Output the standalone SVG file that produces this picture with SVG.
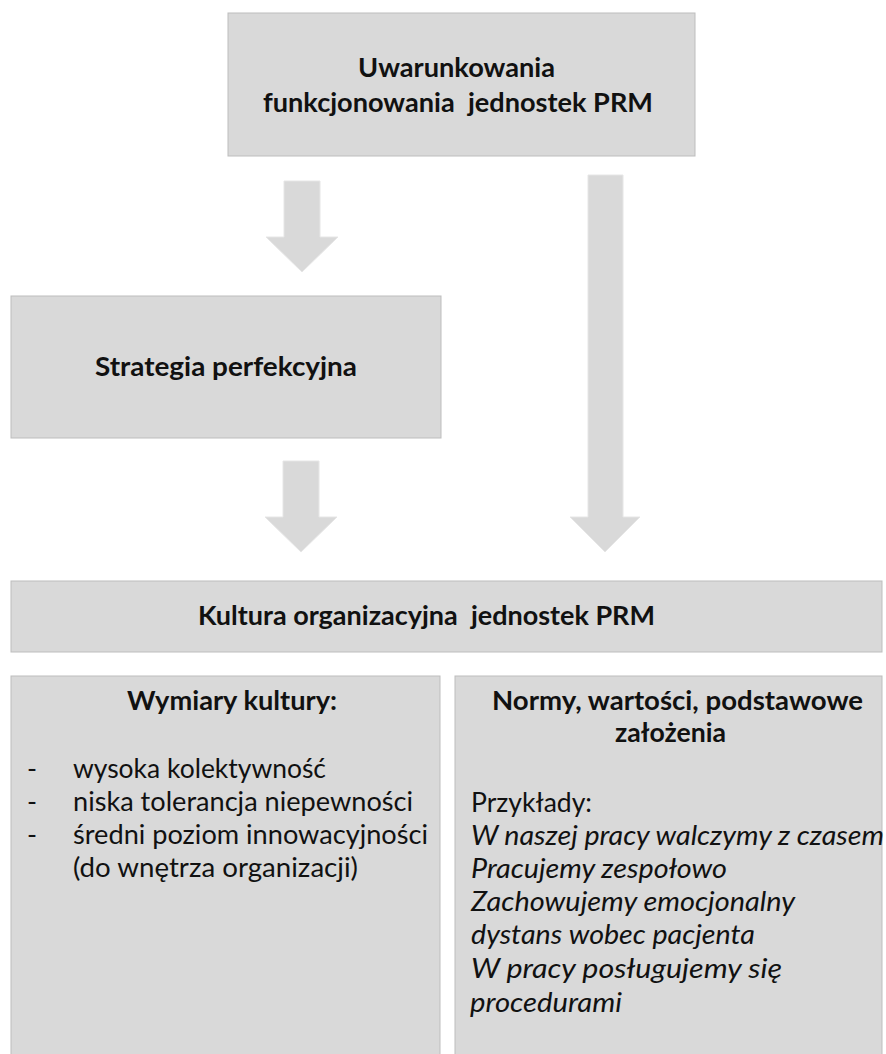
<svg xmlns="http://www.w3.org/2000/svg" width="886" height="1054" viewBox="0 0 886 1054">
<style>
.box{fill:#D9D9D9;stroke:#BDBDBD;stroke-width:1}
.arr{fill:#D9D9D9;stroke:#E6E6E6;stroke-width:1}
text{font-family:Lato,"Liberation Sans",sans-serif;fill:#111}
.b{font-weight:bold;font-size:27px}
.r{font-size:27px}
.i{font-size:27px;font-style:italic}
</style>
<rect width="886" height="1054" fill="#FFFFFF"/>
<g id="connectors">
<path class="arr" d="M284,181 H320 V237 H338 L302,272 L266,237 H284 Z"/>
<path class="arr" d="M283,461 H319 V517 H337 L301,552 L265,517 H283 Z"/>
<path class="arr" d="M588,175 H623 V517 H640 L605,552 L570,517 H588 Z"/>
</g>
<g id="uwarunkowania">
<rect class="box" x="228" y="13" width="467" height="143"/>
<text class="b" x="358" y="77" textLength="197" lengthAdjust="spacingAndGlyphs">Uwarunkowania</text>
<text class="b" x="263" y="112" textLength="390" lengthAdjust="spacingAndGlyphs" xml:space="preserve">funkcjonowania  jednostek PRM</text>
</g>
<g id="strategia">
<rect class="box" x="11" y="296" width="430" height="142"/>
<text class="b" x="95" y="376" textLength="262" lengthAdjust="spacingAndGlyphs">Strategia perfekcyjna</text>
</g>
<g id="kultura">
<rect class="box" x="11" y="581" width="871" height="71"/>
<text class="b" x="198" y="625" textLength="457" lengthAdjust="spacingAndGlyphs" xml:space="preserve">Kultura organizacyjna  jednostek PRM</text>
</g>
<g id="wymiary">
<rect class="box" x="11" y="676" width="429" height="390"/>
<text class="b" x="127" y="710" textLength="210" lengthAdjust="spacingAndGlyphs">Wymiary kultury:</text>
<text class="r" x="27" y="778">-</text>
<text class="r" x="27" y="811">-</text>
<text class="r" x="27" y="844">-</text>
<text class="r" x="73" y="778" textLength="253" lengthAdjust="spacingAndGlyphs">wysoka kolektywność</text>
<text class="r" x="73" y="811" textLength="340" lengthAdjust="spacingAndGlyphs">niska tolerancja niepewności</text>
<text class="r" x="73" y="844" textLength="355" lengthAdjust="spacingAndGlyphs">średni poziom innowacyjności</text>
<text class="r" x="73" y="877" textLength="285" lengthAdjust="spacingAndGlyphs">(do wnętrza organizacji)</text>
</g>
<g id="normy">
<rect class="box" x="455" y="676" width="427" height="390"/>
<text class="b" x="492" y="710" textLength="371" lengthAdjust="spacingAndGlyphs">Normy, wartości, podstawowe</text>
<text class="b" x="615" y="742" textLength="111" lengthAdjust="spacingAndGlyphs">założenia</text>
<text class="r" x="471" y="812" textLength="121" lengthAdjust="spacingAndGlyphs">Przykłady:</text>
<text class="i" x="471" y="845" textLength="413" lengthAdjust="spacingAndGlyphs">W naszej pracy walczymy z czasem</text>
<text class="i" x="471" y="878" textLength="256" lengthAdjust="spacingAndGlyphs">Pracujemy zespołowo</text>
<text class="i" x="471" y="911" textLength="324" lengthAdjust="spacingAndGlyphs">Zachowujemy emocjonalny</text>
<text class="i" x="471" y="944" textLength="284" lengthAdjust="spacingAndGlyphs">dystans wobec pacjenta</text>
<text class="i" x="471" y="978" textLength="311" lengthAdjust="spacingAndGlyphs">W pracy posługujemy się</text>
<text class="i" x="470" y="1012" textLength="152" lengthAdjust="spacingAndGlyphs">procedurami</text>
</g>
</svg>
